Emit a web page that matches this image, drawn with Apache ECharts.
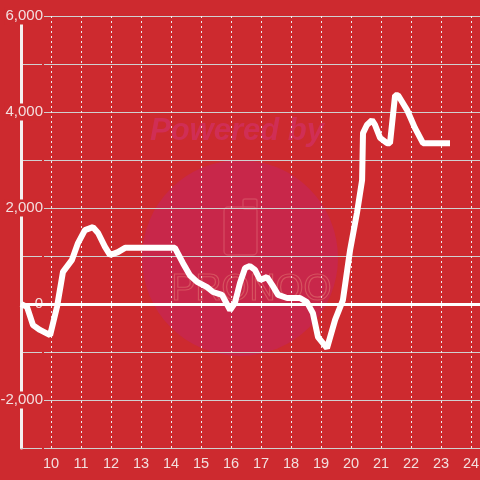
<!DOCTYPE html>
<html><head><meta charset="utf-8">
<script src="https://cdn.jsdelivr.net/npm/echarts@6/dist/echarts.min.js"></script>
<style>html,body{margin:0;padding:0;background:#cd2a2f}#c{width:480px;height:480px}</style>
</head><body><div id="c"></div>
<script>
const xValues = [9.0,9.2,9.4,9.63,9.97,10.2,10.4,10.7,10.9,11.13,11.4,11.57,11.8,11.97,12.23,12.47,14.13,14.4,14.63,14.87,15.2,15.4,15.7,15.97,16.13,16.3,16.47,16.63,16.8,16.97,17.2,17.37,17.57,17.87,18.3,18.53,18.73,18.9,19.2,19.47,19.73,19.97,20.2,20.37,20.4,20.53,20.7,20.8,20.97,21.2,21.3,21.47,21.57,21.87,22.13,22.4,23.3];
const yValues = [0,-60,-440,-540,-650,-60,670,920,1270,1540,1600,1480,1190,1020,1080,1170,1170,850,600,460,350,250,190,-125,20,440,750,790,710,500,560,400,190,125,125,40,-190,-690,-920,-330,80,1125,1900,2580,3560,3730,3830,3730,3460,3350,3350,4350,4350,4040,3670,3350,3350];
const yTickLabels = [-2000,0,2000,4000,6000];

const data = xValues.map((x,i)=>[x,yValues[i]]);
const chart = echarts.init(document.getElementById('c'));
const fmt = v => (v<0?'-':'') + Math.abs(v).toString().replace(/\B(?=(\d{3})+(?!\d))/g, ',');
chart.setOption({
  backgroundColor:'#cd2a2f',
  animation:false,
  graphic:[
    {type:'circle', z:-10, shape:{cx:240, cy:258, r:98}, style:{fill:'#c8274a'}},
    {type:'text', z:-10, left:150, top:116, style:{text:'Powered by', fill:'#d02e55', font:'italic bold 31px "Liberation Sans", sans-serif'}},
    {type:'rect', z:-10, shape:{x:224, y:207, width:33, height:48, r:4}, style:{fill:'none', stroke:'#d2455e', lineWidth:1.5}},
    {type:'rect', z:-10, shape:{x:243, y:199, width:14, height:10, r:2}, style:{fill:'none', stroke:'#d2455e', lineWidth:1.5}},
    {type:'text', z:-10, left:171, top:271, style:{text:'PRONOO', fill:'none', stroke:'#d6525f', lineWidth:1.2, font:'36px "Liberation Sans Narrow", "Liberation Sans", sans-serif'}}
  ],
  grid:{left:21, right:0, top:16, bottom:32, containLabel:false, outerBoundsMode:'none'},
  xAxis:{
    type:'value', min:9, max:24.3, interval:1,
    axisLine:{show:true, onZero:false, lineStyle:{color:'#d0d0d0', width:1}},
    axisTick:{show:false},
    axisLabel:{color:'#f3dede', fontSize:14.5, margin:8, showMinLabel:false, showMaxLabel:false, fontFamily:'Liberation Sans, sans-serif'},
    splitLine:{show:true, lineStyle:{color:'#eeeeee', type:[2,3], width:1}}
  },
  yAxis:{
    type:'value', min:-3000, max:6000, interval:1000,
    axisLine:{show:true, lineStyle:{color:'#f5f0f0', width:3}},
    axisTick:{show:false},
    axisLabel:{color:'#f3dede', fontSize:15, margin:-23, fontFamily:'Liberation Sans, sans-serif',
      backgroundColor:'#cd2a2f', padding:[1,1,1,1],
      formatter:v => yTickLabels.includes(v) ? fmt(v) : ''},
    splitLine:{show:true, lineStyle:{color:'#d0d0d0', width:1}}
  },
  series:[{
    type:'line', data:data, symbol:'none', smooth:false,
    lineStyle:{color:'#ffffff', width:6},
    markLine:{silent:true, symbol:'none', label:{show:false}, lineStyle:{color:'#ffffff', width:3, type:'solid'}, data:[{yAxis:0}]}
  }]
});
</script></body></html>
